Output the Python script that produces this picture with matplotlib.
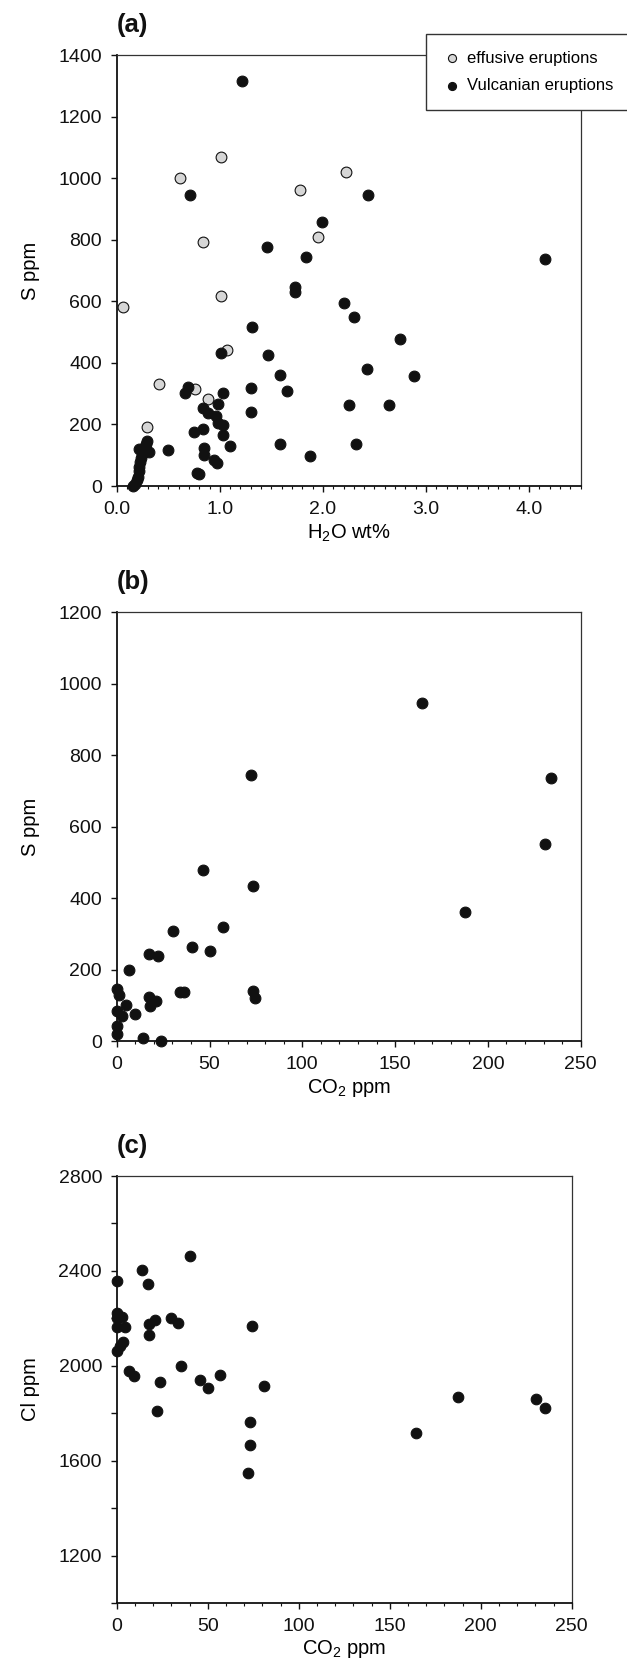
import matplotlib
matplotlib.use('Agg')
import matplotlib.pyplot as plt
from matplotlib.ticker import MultipleLocator, FixedLocator, FormatStrFormatter

plt.rcParams['font.family'] = ['Liberation Sans', 'DejaVu Sans']
plt.rcParams['mathtext.default'] = 'regular'

# (a) S vs H2O
eff_h2o = [0.06, 0.61, 1.01, 0.84, 1.01, 1.78, 2.22, 1.95, 1.07, 0.41, 0.76, 0.89, 0.29]
eff_s = [582, 999, 1068, 791, 617, 961, 1021, 808, 442, 330, 314, 281, 193]

vul_h2o = [1.22, 0.71, 2.44, 1.99, 1.46, 1.84, 4.15, 1.73, 1.73, 2.20, 2.30, 1.31, 2.75,
           1.01, 1.47, 2.43, 1.58, 2.88, 0.69, 0.66, 1.30, 1.03, 1.65, 0.98, 1.30, 2.25,
           2.64, 0.84, 0.89, 0.96, 0.98, 1.03, 0.84, 0.75, 1.03, 1.10, 0.50, 1.58, 2.32,
           1.87, 0.85, 0.85, 0.94, 0.97, 0.78, 0.80,
           0.16, 0.18, 0.20, 0.21, 0.22, 0.22, 0.23, 0.24, 0.25, 0.22, 0.26, 0.28, 0.29, 0.31]
vul_s = [1317, 945, 945, 857, 776, 745, 736, 645, 629, 593, 550, 518, 479,
         433, 426, 381, 361, 358, 321, 303, 319, 301, 309, 266, 241, 263,
         263, 252, 236, 227, 206, 198, 184, 174, 166, 130, 117, 136, 136,
         99, 122, 101, 84, 74, 43, 40,
         0, 8, 18, 30, 48, 62, 78, 92, 105, 120, 125, 138, 145, 112]

# (b) S vs CO2
co2_b = [164.6, 72.1, 234, 230.8, 187.5, 46.4, 73.6, 57.5, 30.1, 40.5, 50.3, 17.6, 22.4,
         6.5, 0, 1.4, 34, 36, 73.2, 74.5, 17.2, 21.3, 17.8, 5, 0, 3, 9.7, 0, 0, 14, 24]
s_b = [946, 744, 736, 552, 361, 479, 434, 319, 307, 264, 253, 243, 239,
       199, 146, 128, 138, 138, 139, 121, 122, 112, 98, 100, 84, 70, 75, 42, 20, 9, 1]

# (c) Cl vs CO2
co2_c = [40.5, 13.8, 17, 0, 0, 0, 3, 0, 4.6, 17.6, 21.2, 29.7, 33.8, 74.5, 17.6, 3.4, 1.6,
         0, 35.3, 7, 9.5, 57, 46, 24, 50.3, 81, 22, 187.3, 230.4, 235.4, 164.6, 73.4, 73.4, 72.1]
cl_c = [2462, 2405, 2345, 2358, 2222, 2200, 2205, 2162, 2164, 2176, 2192, 2203, 2182, 2168,
        2130, 2102, 2085, 2062, 2000, 1976, 1958, 1960, 1942, 1930, 1905, 1915, 1810, 1867,
        1862, 1820, 1717, 1764, 1664, 1546]

W, H = 627, 1660
fig = plt.figure(figsize=(W / 100, H / 100), dpi=100)


def px_axes(left, top, right, bottom):
    return fig.add_axes([left / W, 1 - bottom / H, (right - left) / W, (bottom - top) / H])


def style(ax, label):
    for s in ['left', 'bottom']:
        ax.spines[s].set_linewidth(1.3)
        ax.spines[s].set_color('#111111')
    for s in ['top', 'right']:
        ax.spines[s].set_linewidth(0.9)
        ax.spines[s].set_color('#333333')
    ax.tick_params(which='both', direction='out', top=False, right=False,
                   labelsize=14, pad=6.5, colors='#111111')
    ax.tick_params(which='major', length=4, width=1)
    ax.tick_params(which='minor', length=2.5, width=0.8)
    ax.annotate(label, xy=(0, 1), xycoords='axes fraction', xytext=(0, 13),
                textcoords='offset points', ha='left', va='bottom',
                fontsize=18.5, fontweight='bold', color='#111111')


black = '#111111'
grey = '#d6d6d6'

# panel (a)
ax1 = px_axes(116.7, 55, 580.7, 486)
ax1.scatter(eff_h2o, eff_s, s=60, c=grey, edgecolors=black, linewidths=0.8,
            zorder=3, label='effusive eruptions', clip_on=False)
ax1.scatter(vul_h2o, vul_s, s=60, c=black, edgecolors=black, linewidths=0.8,
            zorder=4, label='Vulcanian eruptions', clip_on=False)
ax1.set_xlim(0, 4.5)
ax1.set_ylim(0, 1400)
ax1.xaxis.set_major_locator(MultipleLocator(1))
ax1.xaxis.set_minor_locator(MultipleLocator(0.1))
ax1.xaxis.set_major_formatter(FormatStrFormatter('%.1f'))
ax1.yaxis.set_major_locator(MultipleLocator(200))
ax1.set_xlabel('H$_2$O wt%', fontsize=14.5)
ax1.set_ylabel('S ppm', fontsize=14.5)
ax1.xaxis.set_label_coords(0.5, -0.085)
ax1.yaxis.set_label_coords(-0.165, 0.5)
style(ax1, '(a)')
leg = fig.legend(handles=ax1.collections, labels=['effusive eruptions', 'Vulcanian eruptions'],
                 loc='upper left', bbox_to_anchor=(425.7 / W, 1 - 34 / H - 0.01, 0.33, 0.01),
                 mode='expand', fontsize=12, frameon=True, fancybox=False,
                 edgecolor='#333333', framealpha=1, markerscale=0.75,
                 handletextpad=0.3, labelspacing=0.75, borderpad=1.0,
                 handlelength=1.2, borderaxespad=0)
leg.get_frame().set_linewidth(1.0)
leg.set_zorder(10)

# panel (b)
ax2 = px_axes(116.7, 612, 580.7, 1041)
ax2.scatter(co2_b, s_b, s=60, c=black, edgecolors=black, linewidths=0.8,
            zorder=4, clip_on=False)
ax2.set_xlim(0, 250)
ax2.set_ylim(0, 1200)
ax2.xaxis.set_major_locator(MultipleLocator(50))
ax2.xaxis.set_minor_locator(MultipleLocator(10))
ax2.yaxis.set_major_locator(MultipleLocator(200))
ax2.set_xlabel('CO$_2$ ppm', fontsize=14.5)
ax2.set_ylabel('S ppm', fontsize=14.5)
ax2.xaxis.set_label_coords(0.5, -0.085)
ax2.yaxis.set_label_coords(-0.165, 0.5)
style(ax2, '(b)')

# panel (c)
ax3 = px_axes(116.7, 1176, 571.7, 1603)
ax3.scatter(co2_c, cl_c, s=58, c=black, edgecolors=black, linewidths=0.8,
            zorder=4, clip_on=False)
ax3.set_xlim(0, 250)
ax3.set_ylim(1000, 2800)
ax3.xaxis.set_major_locator(MultipleLocator(50))
ax3.xaxis.set_minor_locator(MultipleLocator(10))
ax3.yaxis.set_major_locator(FixedLocator([1200, 1600, 2000, 2400, 2800]))
ax3.yaxis.set_minor_locator(FixedLocator([1000, 1400, 1800, 2200, 2600]))
ax3.set_xlabel('CO$_2$ ppm', fontsize=14.5)
ax3.set_ylabel('Cl ppm', fontsize=14.5)
ax3.xaxis.set_label_coords(0.5, -0.082)
ax3.yaxis.set_label_coords(-0.168, 0.5)
style(ax3, '(c)')
ax3.tick_params(axis='y', which='minor', length=4, width=1)

fig.savefig('out.png', dpi=100)
